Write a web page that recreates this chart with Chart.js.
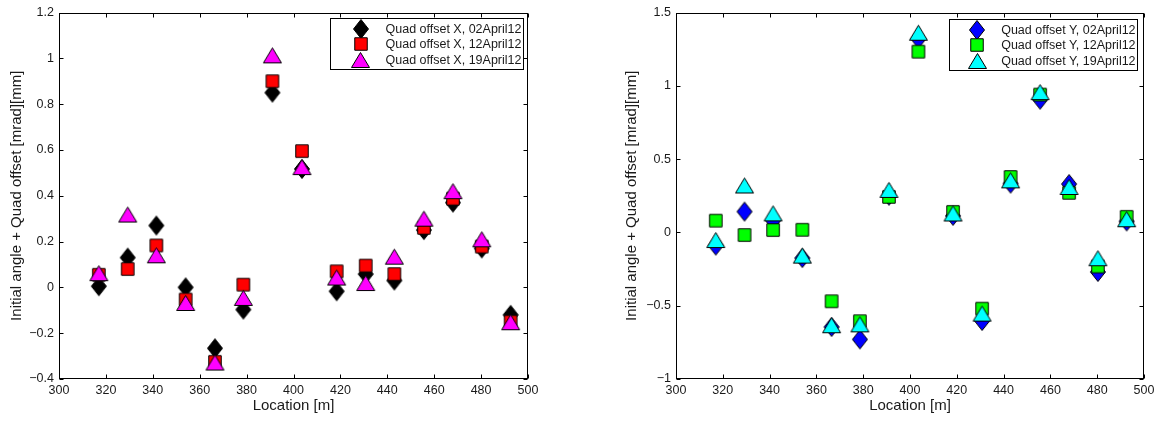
<!DOCTYPE html>
<html>
<head>
<meta charset="utf-8">
<script src="https://cdn.jsdelivr.net/npm/chart.js@4.4.1/dist/chart.umd.min.js"></script>
<style>
  html, body { margin: 0; padding: 0; background: #fff; width: 1159px; height: 423px; overflow: hidden; }
  canvas { position: absolute; top: 0; }
  #cx { left: 0; }
  #cy { left: 600px; }
</style>
</head>
<body>
<canvas id="cx" width="600" height="423"></canvas>
<canvas id="cy" width="559" height="423"></canvas>
<script>
// ---- Data ----
const LOCATION = [317, 329.3, 341.5, 354, 366.5, 378.6, 391, 403.6, 418.4, 430.8, 443, 455.6, 468, 480.3, 492.6];

const X_02APR = [0.005, 0.13, 0.27, 0.0, -0.266, -0.097, 0.85, 0.517, -0.017, 0.058, 0.03, 0.25, 0.37, 0.17, -0.12];
const X_12APR = [0.055, 0.08, 0.183, -0.053, -0.325, 0.012, 0.90, 0.595, 0.07, 0.095, 0.058, 0.26, 0.387, 0.178, -0.15];
const X_19APR = [0.062, 0.318, 0.14, -0.068, -0.328, -0.046, 1.013, 0.525, 0.043, 0.019, 0.134, 0.30, 0.42, 0.21, -0.152];

const Y_02APR = [-0.09, 0.142, 0.08, -0.175, -0.645, -0.73, 0.25, 1.32, 0.113, -0.604, 0.333, 0.905, 0.33, -0.27, 0.075];
const Y_12APR = [0.08, -0.018, 0.016, 0.018, -0.47, -0.606, 0.242, 1.233, 0.14, -0.52, 0.378, 0.94, 0.27, -0.233, 0.106];
const Y_19APR = [-0.052, 0.32, 0.13, -0.158, -0.633, -0.627, 0.29, 1.362, 0.129, -0.554, 0.355, 0.957, 0.31, -0.176, 0.09];

const LABELS_X = ['Quad offset X, 02April12', 'Quad offset X, 12April12', 'Quad offset X, 19April12'];
const LABELS_Y = ['Quad offset Y, 02April12', 'Quad offset Y, 12April12', 'Quad offset Y, 19April12'];

const X_AXIS_TITLE = 'Location [m]';
const Y_AXIS_TITLE = 'Initial angle + Quad offset [mrad][mm]';

const FONT = '"Liberation Sans", Arial, Helvetica, sans-serif';
const TEXT_COLOR = '#1a1a1a';

// ---- Marker images ----
function makeMarker(shape, color) {
  let w, h;
  if (shape === 'diamond') { w = 15; h = 19; }
  else if (shape === 'square') { w = 12.5; h = 12.5; }
  else { w = 18; h = 15; }
  const c = document.createElement('canvas');
  c.width = Math.ceil(w) + 3; c.height = Math.ceil(h) + 3;
  const g = c.getContext('2d');
  const cx = c.width / 2, cy = c.height / 2;
  g.beginPath();
  if (shape === 'diamond') {
    g.moveTo(cx, cy - h / 2); g.lineTo(cx + w / 2, cy); g.lineTo(cx, cy + h / 2); g.lineTo(cx - w / 2, cy);
  } else if (shape === 'square') {
    g.rect(cx - w / 2, cy - h / 2, w, h);
  } else {
    g.moveTo(cx, cy - h / 2); g.lineTo(cx + w / 2, cy + h / 2); g.lineTo(cx - w / 2, cy + h / 2);
  }
  g.closePath();
  g.fillStyle = color; g.fill();
  g.lineWidth = 1; g.strokeStyle = '#000'; g.stroke();
  return c;
}

function pts(ys) { return LOCATION.map((x, i) => ({ x: x, y: ys[i] })); }

function fmtTick(v) {
  const s = String(Math.round(v * 1000) / 1000);
  return s.replace('-', '\u2212');
}

// box + inward ticks
const boxPlugin = {
  id: 'matlabBox',
  afterDatasetsDraw(chart) {
    const { ctx, chartArea: a, scales } = chart;
    const L = Math.round(a.left) + 0.5, R = Math.round(a.right) - 0.5;
    const T = Math.round(a.top) + 0.5, B = Math.round(a.bottom) - 0.5;
    ctx.save();
    ctx.strokeStyle = '#000'; ctx.lineWidth = 1;
    ctx.strokeRect(L, T, R - L, B - T);
    const tl = 4;
    ctx.beginPath();
    scales.x.ticks.forEach(t => {
      const px = Math.round(scales.x.getPixelForValue(t.value)) + 0.5;
      ctx.moveTo(px, B); ctx.lineTo(px, B - tl);
      ctx.moveTo(px, T); ctx.lineTo(px, T + tl);
    });
    scales.y.ticks.forEach(t => {
      const py = Math.round(scales.y.getPixelForValue(t.value)) + 0.5;
      ctx.moveTo(L, py); ctx.lineTo(L + tl, py);
      ctx.moveTo(R, py); ctx.lineTo(R - tl, py);
    });
    ctx.stroke();
    ctx.restore();
  }
};

// legend inside top-right
const legendPlugin = {
  id: 'innerLegend',
  afterDraw(chart, args, opts) {
    const { ctx, chartArea: a } = chart;
    ctx.save();
    ctx.font = '12.5px ' + FONT;
    const ds = chart.data.datasets;
    const tw = Math.max(...ds.map(d => ctx.measureText(d.label).width));
    const bw = opts.textOffset + tw + 2;
    const bh = 51;
    const bx = Math.round(a.right - opts.insetRight - bw) + 0.5;
    const by = Math.round(a.top + opts.insetTop) + 0.5;
    ctx.fillStyle = '#fff';
    ctx.fillRect(bx, by, Math.round(bw), bh);
    ctx.strokeStyle = '#000'; ctx.lineWidth = 1;
    ctx.strokeRect(bx, by, Math.round(bw), bh);
    const rows = [10.3, 25.8, 41.3];
    ds.forEach((d, i) => {
      const img = d.pointStyle;
      const my = by + rows[i];
      ctx.drawImage(img, Math.round(bx + opts.markerOffset - img.width / 2), Math.round(my - img.height / 2));
      ctx.fillStyle = TEXT_COLOR;
      ctx.textBaseline = 'middle';
      ctx.textAlign = 'left';
      ctx.fillText(d.label, bx + opts.textOffset, my + 0.5);
    });
    ctx.restore();
  }
};

function makeChart(id, series, labels, colors, yMin, yMax, yStep, cfg) {
  const shapes = ['diamond', 'square', 'triangle'];
  const datasets = series.map((s, i) => ({
    label: labels[i],
    data: pts(s),
    pointStyle: makeMarker(shapes[i], colors[i]),
    pointRadius: 9,
    pointHoverRadius: 9,
    showLine: false,
    order: 2 - i
  }));
  return new Chart(document.getElementById(id), {
    type: 'scatter',
    data: { datasets },
    options: {
      responsive: false,
      animation: false,
      devicePixelRatio: 1,
      events: [],
      layout: { padding: { left: 0, right: cfg.padRight, top: cfg.padTop, bottom: 0 } },
      plugins: {
        legend: { display: false },
        tooltip: { enabled: false },
        innerLegend: cfg.legend
      },
      scales: {
        x: {
          type: 'linear', min: 300, max: 500,
          afterFit(scale) { scale.height = cfg.xAxisH; },
          grid: { display: false, drawTicks: false },
          border: { display: false },
          ticks: { stepSize: 20, padding: 4, color: TEXT_COLOR, font: { family: FONT, size: 12.5 }, maxRotation: 0, callback: v => fmtTick(v) },
          title: { display: true, text: X_AXIS_TITLE, color: TEXT_COLOR, font: { family: FONT, size: 15 }, padding: { top: 0, bottom: 8 } }
        },
        y: {
          type: 'linear', min: yMin, max: yMax,
          afterFit(scale) { scale.width = cfg.yAxisW; },
          grid: { display: false, drawTicks: false },
          border: { display: false },
          ticks: { stepSize: yStep, padding: 5, color: TEXT_COLOR, font: { family: FONT, size: 12.5 }, callback: v => fmtTick(v) },
          title: { display: true, text: Y_AXIS_TITLE, color: TEXT_COLOR, font: { family: FONT, size: 15 }, padding: { top: cfg.yTitlePad, bottom: 0 } }
        }
      }
    },
    plugins: [boxPlugin, legendPlugin]
  });
}

makeChart('cx', [X_02APR, X_12APR, X_19APR], LABELS_X, ['#000000', '#ff0000', '#ff00ff'], -0.4, 1.2, 0.2,
  { padRight: 72, padTop: 9, yAxisW: 59, xAxisH: 44, yTitlePad: 7.5,
    legend: { insetRight: 5.5, insetTop: 5.7, markerOffset: 30, textOffset: 55 } });

makeChart('cy', [Y_02APR, Y_12APR, Y_19APR], LABELS_Y, ['#0000ff', '#00ff00', '#00ffff'], -1, 1.5, 0.5,
  { padRight: 15, padTop: 10, yAxisW: 76, xAxisH: 44, yTitlePad: 22.5,
    legend: { insetRight: 6.7, insetTop: 6.6, markerOffset: 27.7, textOffset: 51.7 } });
</script>
</body>
</html>
